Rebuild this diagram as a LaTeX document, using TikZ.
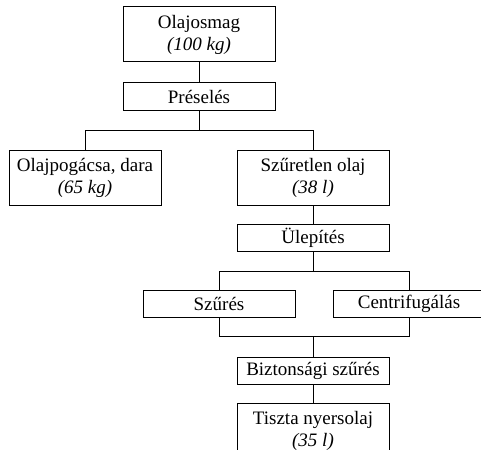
\documentclass[tikz,border=0pt]{standalone}
\usepackage{fontspec}
\setmainfont{Liberation Serif}
\usetikzlibrary{positioning}

\begin{document}
\begin{tikzpicture}[font=\fontsize{9.5}{11}\selectfont, node distance=10pt,
  bx/.style={draw, line width=0.5pt, minimum width=76pt, minimum height=13.5pt,
             inner sep=1pt, align=center},
  bx2/.style={bx, minimum height=27.5pt},
  ln/.style={line width=0.5pt}]
\clip (0,0) rectangle (240.5pt,-224.5pt);
\node[bx2] (om) at (99.5pt,-17.25pt) {Olajosmag\\\textit{(100 kg)}};
\node[bx, below=10pt of om] (pr) {Préselés};
\node[bx2, below=19.5pt of pr, xshift=-57pt] (op) {Olajpogácsa, dara\\\textit{(65 kg)}};
\node[bx2, below=19.5pt of pr, xshift=57pt] (so) {Szűretlen olaj\\\textit{(38 l)}};
\node[bx, below=9pt of so] (ul) {Ülepítés};
\node[bx, below=19pt of ul, xshift=-47pt] (sz) {Szűrés};
\node[bx, below=19pt of ul, xshift=48pt] (cf) {Centrifugálás};
\node[bx, below=19.5pt of sz, xshift=47pt] (bz) {Biztonsági szűrés};
\node[bx2, below=9pt of bz] (tn) {Tiszta nyersolaj\\\textit{(35 l)}};
% connectors
\draw[ln] (om) -- (pr);
\draw[ln] (pr.south) -- ++(0,-10pt) -| (op.north);
\draw[ln] (pr.south) -- ++(0,-10pt) -| (so.north);
\draw[ln] (so) -- (ul);
\draw[ln] (ul.south) -- ++(0,-10pt) -| (sz.north);
\draw[ln] (ul.south) -- ++(0,-10pt) -| (cf.north);
\draw[ln] (sz.south) -- ++(0,-9.5pt) -| (bz.north);
\draw[ln] (cf.south) -- ++(0,-9.5pt) -| (bz.north);
\draw[ln] (bz) -- (tn);
\end{tikzpicture}
\end{document}
